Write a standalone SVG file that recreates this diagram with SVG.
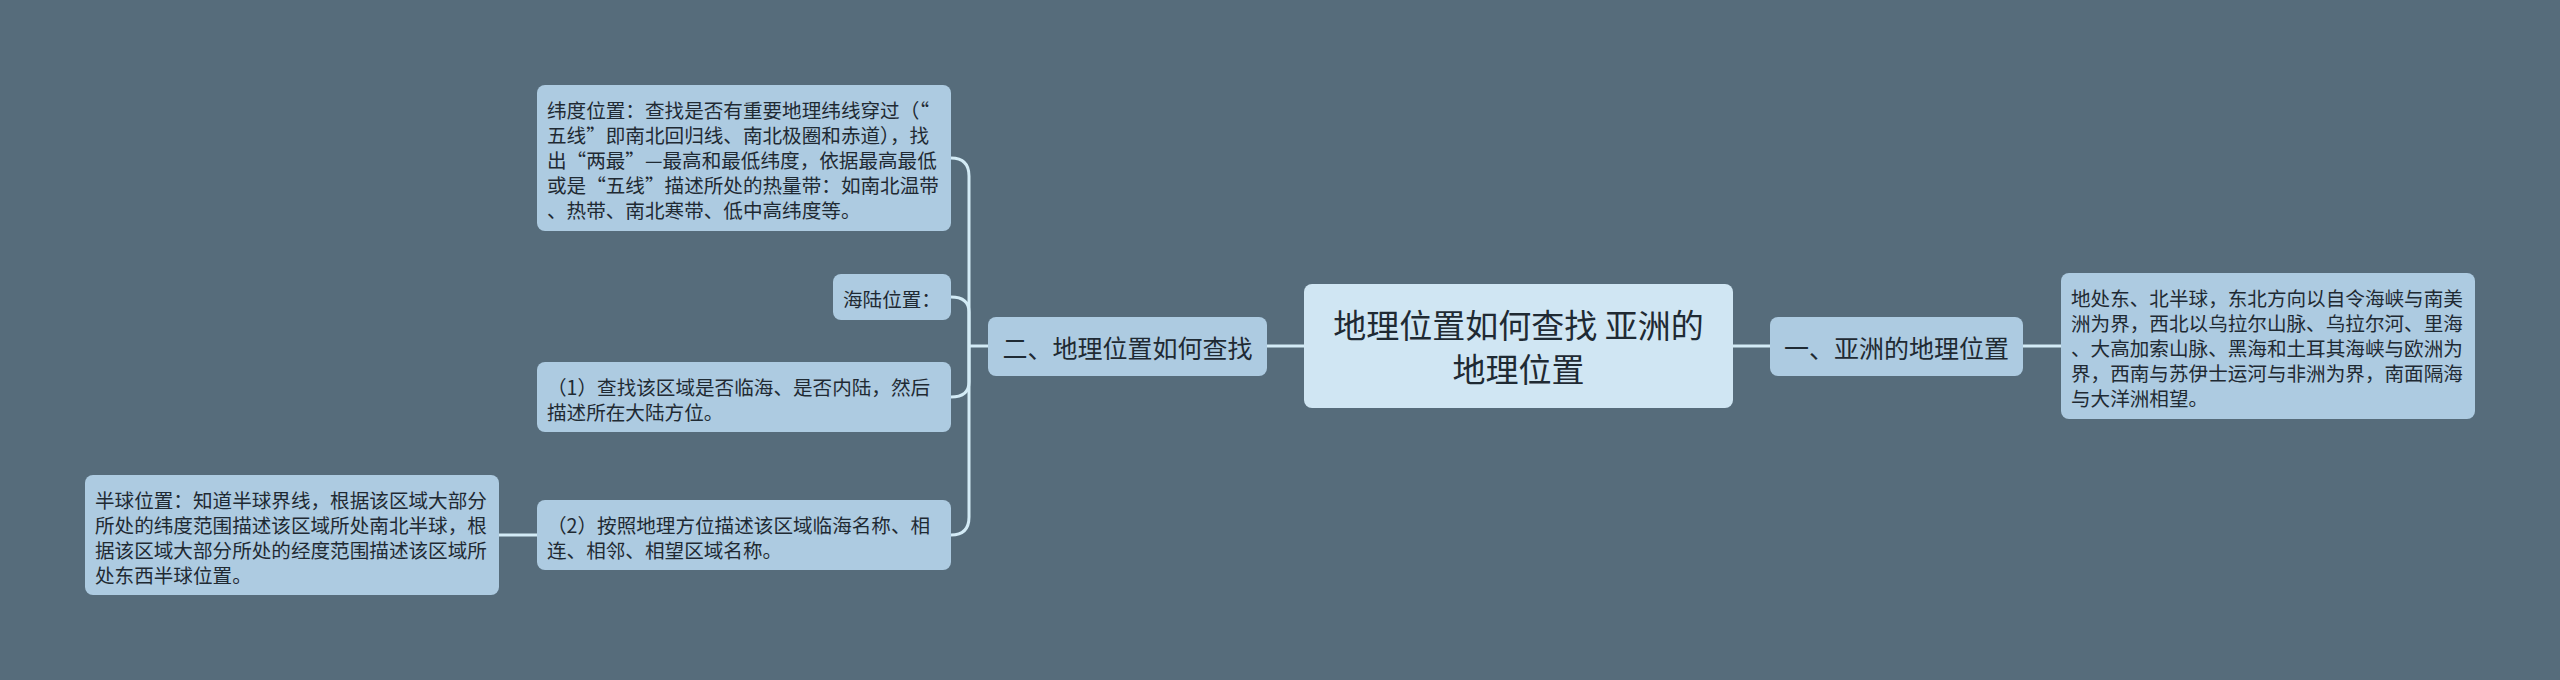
<svg xmlns="http://www.w3.org/2000/svg" width="2560" height="680" viewBox="0 0 2560 680">
<style>
.bg{fill:#566c7b}
.node{fill:#adcbe1}
.root{fill:#d0e6f3}
.t{font-family:"Noto Sans CJK SC","Noto Sans",sans-serif;fill:#1f2a33;dominant-baseline:central}
.s{font-size:19.6px}
.m{font-size:25px}
.l{font-size:33px}
.c{fill:none;stroke:#d3ebf6;stroke-width:3}
</style>
<rect class="bg" x="0" y="0" width="2560" height="680"/>
<g id="connectors">
<path class="c" d="M1304 346H1267"/>
<path class="c" d="M1733 346H1770"/>
<path class="c" d="M2023 346H2061"/>
<path class="c" d="M988 346H969"/>
<path class="c" d="M969 346V176Q969 158 951 158"/>
<path class="c" d="M969 346V312Q969 297 951 297"/>
<path class="c" d="M969 346V382Q969 397 951 397"/>
<path class="c" d="M969 346V517Q969 535 951 535"/>
<path class="c" d="M537 535H499"/>
</g>
<g id="root">
<rect class="root" x="1304" y="284" width="429" height="124" rx="8"/>
<text class="t l" x="1518.5" y="324" text-anchor="middle">地理位置如何查找 亚洲的</text>
<text class="t l" x="1518.5" y="368" text-anchor="middle">地理位置</text>
</g>
<g id="n-part1">
<rect class="node" x="1770" y="317" width="253" height="59" rx="8"/>
<text class="t m" x="1896.5" y="346.5" text-anchor="middle">一、亚洲的地理位置</text>
</g>
<g id="n-part1-detail">
<rect class="node" x="2061" y="273" width="414" height="146" rx="8"/>
<text class="t s" x="2071" y="297">地处东、北半球，东北方向以自令海峡与南美</text>
<text class="t s" x="2071" y="322">洲为界，西北以乌拉尔山脉、乌拉尔河、里海</text>
<text class="t s" x="2071" y="347">、大高加索山脉、黑海和土耳其海峡与欧洲为</text>
<text class="t s" x="2071" y="372">界，西南与苏伊士运河与非洲为界，南面隔海</text>
<text class="t s" x="2071" y="397">与大洋洲相望。</text>
</g>
<g id="n-part2">
<rect class="node" x="988" y="317" width="279" height="59" rx="8"/>
<text class="t m" x="1127.5" y="346.5" text-anchor="middle">二、地理位置如何查找</text>
</g>
<g id="n-latitude">
<rect class="node" x="537" y="85" width="414" height="146" rx="8"/>
<text class="t s" x="547" y="109">纬度位置：查找是否有重要地理纬线穿过（“</text>
<text class="t s" x="547" y="134">五线”即南北回归线、南北极圈和赤道），找</text>
<text class="t s" x="547" y="159">出“两最”—最高和最低纬度，依据最高最低</text>
<text class="t s" x="547" y="184">或是“五线”描述所处的热量带：如南北温带</text>
<text class="t s" x="547" y="209">、热带、南北寒带、低中高纬度等。</text>
</g>
<g id="n-sealand">
<rect class="node" x="833" y="274" width="118" height="46" rx="8"/>
<text class="t s" x="843" y="298">海陆位置：</text>
</g>
<g id="n-step1">
<rect class="node" x="537" y="362" width="414" height="70" rx="8"/>
<text class="t s" x="547" y="386">（1）查找该区域是否临海、是否内陆，然后</text>
<text class="t s" x="547" y="411">描述所在大陆方位。</text>
</g>
<g id="n-step2">
<rect class="node" x="537" y="500" width="414" height="70" rx="8"/>
<text class="t s" x="547" y="524">（2）按照地理方位描述该区域临海名称、相</text>
<text class="t s" x="547" y="549">连、相邻、相望区域名称。</text>
</g>
<g id="n-hemisphere">
<rect class="node" x="85" y="475" width="414" height="120" rx="8"/>
<text class="t s" x="95" y="499">半球位置：知道半球界线，根据该区域大部分</text>
<text class="t s" x="95" y="524">所处的纬度范围描述该区域所处南北半球，根</text>
<text class="t s" x="95" y="549">据该区域大部分所处的经度范围描述该区域所</text>
<text class="t s" x="95" y="574">处东西半球位置。</text>
</g>
</svg>
